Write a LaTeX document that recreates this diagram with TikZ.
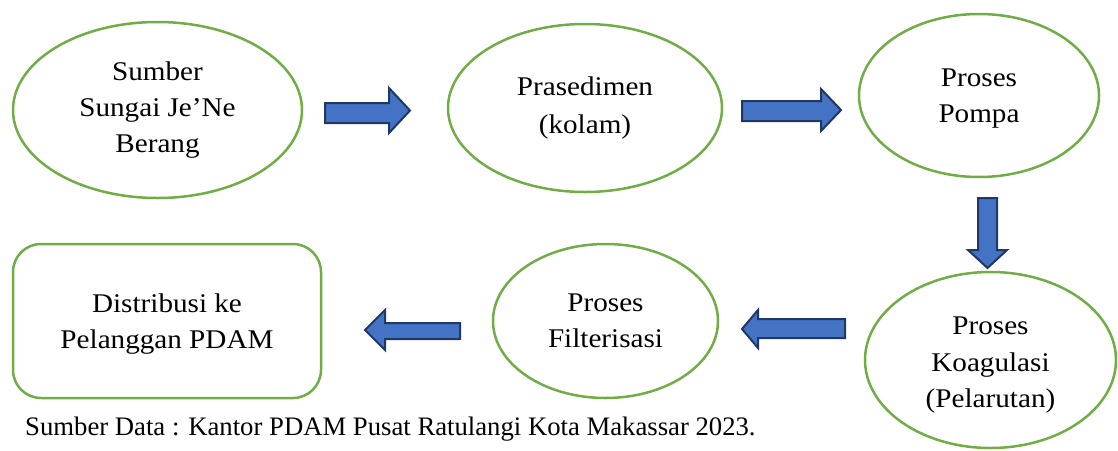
\documentclass[tikz,border=0pt]{standalone}
\usepackage{fontspec}
\setmainfont{Liberation Serif}
\newfontfamily\nodefont{Liberation Serif}[FakeStretch=1.08]
\usetikzlibrary{shapes.geometric}
\definecolor{boxgreen}{HTML}{70AD47}
\definecolor{arrowblue}{HTML}{4472C4}
\definecolor{arrowdark}{HTML}{1F3864}
\tikzset{
  oval/.style={ellipse, draw=boxgreen, line width=2.5pt, inner sep=0pt},
  rbox/.style={rectangle, rounded corners=28pt, draw=boxgreen, line width=2.5pt, inner sep=0pt},
  label text/.style={align=center, inner sep=0pt, font=\nodefont\fontsize{27}{36}\selectfont},
  blockarrow/.style={fill=arrowblue, draw=arrowdark, line width=2pt, line join=miter},
}
\begin{document}
\begin{tikzpicture}[x=1pt,y=-1pt]
\useasboundingbox (0,0) rectangle (1118,450);
% shapes
\node[oval, minimum width=289pt, minimum height=176pt] (e1) at (157.5,110) {};
\node[oval, minimum width=274pt, minimum height=168pt] (e2) at (585,108) {};
\node[oval, minimum width=240pt, minimum height=163pt] (e3) at (979,95.5) {};
\node[oval, minimum width=251pt, minimum height=176pt] (e4) at (990.5,360) {};
\node[oval, minimum width=225pt, minimum height=154pt] (e5) at (605.5,321) {};
\node[rbox, minimum width=308pt, minimum height=154pt] (r1) at (167,321) {};
% texts
\node[label text] (t1) at (157.5,109.7) {Sumber\\Sungai Je’Ne\\Berang};
\node[label text, font=\nodefont\fontsize{27}{38}\selectfont] (t2) at (585,107.8) {Prasedimen\\(kolam)};
\node[label text] (t3) at (979,98.5) {Proses\\Pompa};
\node[label text, font=\nodefont\fontsize{27}{36.5}\selectfont] (t4) at (990.5,365.5) {Proses\\Koagulasi\\(Pelarutan)};
\node[label text] (t5) at (605.5,321) {Proses\\Filterisasi};
\node[label text] (t6) at (167,324.3) {Distribusi ke\\Pelanggan PDAM};
% block arrows
\draw[blockarrow] (325,103)--(389,103)--(389,88)--(410,110.5)--(389,133)--(389,123)--(325,123)--cycle;
\draw[blockarrow] (742,101)--(821,101)--(821,89)--(841,110)--(821,131)--(821,121)--(742,121)--cycle;
\draw[blockarrow] (978,198)--(997,198)--(997,250)--(1007,250)--(987.5,268)--(968,250)--(978,250)--cycle;
\draw[blockarrow] (845,319)--(758,319)--(758,310)--(742,329)--(758,348)--(758,338)--(845,338)--cycle;
\draw[blockarrow] (460,323)--(385,323)--(385,310)--(365,330)--(385,350)--(385,339)--(460,339)--cycle;
% caption
\node[anchor=base west, inner sep=0pt, font=\fontsize{26.7}{30}\selectfont] (cap) at (25,435) {Sumber Data : Kantor PDAM Pusat Ratulangi Kota Makassar 2023.};
\end{tikzpicture}
\end{document}
